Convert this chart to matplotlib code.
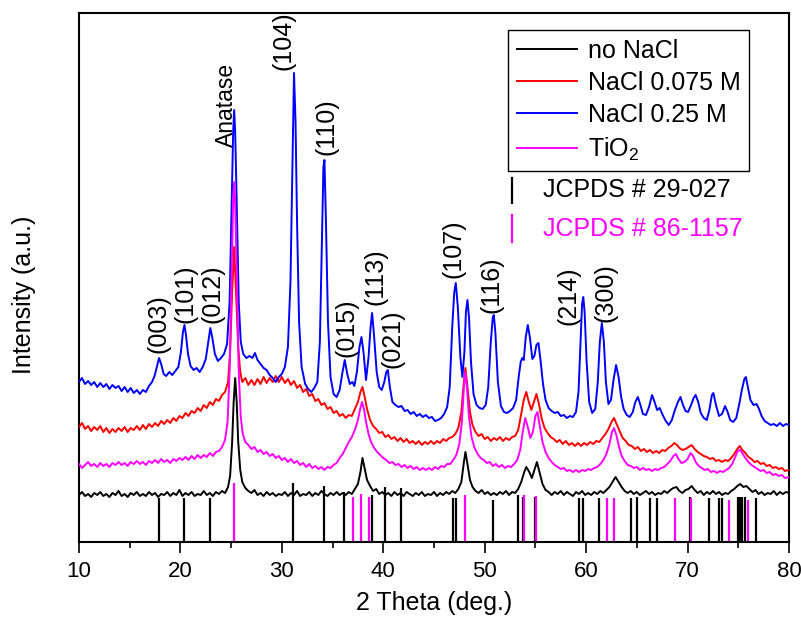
import matplotlib
matplotlib.use("Agg")
import matplotlib.pyplot as plt
from matplotlib.ticker import MultipleLocator

plt.rcParams['font.family'] = ['Liberation Sans', 'DejaVu Sans']
plt.rcParams['mathtext.fontset'] = 'custom'
plt.rcParams['mathtext.rm'] = 'Liberation Sans'
plt.rcParams['mathtext.default'] = 'regular'

# XRD patterns (2theta, stacked intensity in arbitrary units)
no_nacl = [
    (10.0, 47), (10.3, 50), (10.6, 46), (10.9, 48), (11.2, 45), (11.5, 49), (11.8, 47), (12.1, 50), (12.4, 46), (12.7, 48),
    (13.0, 45), (13.3, 49), (13.6, 47), (13.9, 51), (14.2, 46), (14.5, 48), (14.8, 45), (15.1, 49), (15.4, 47), (15.7, 50),
    (16.0, 46), (16.3, 48), (16.6, 46), (16.9, 50), (17.2, 47), (17.5, 49), (17.8, 45), (18.1, 48), (18.4, 47), (18.7, 50),
    (19.0, 46), (19.3, 49), (19.6, 47), (19.9, 52), (20.2, 46), (20.5, 49), (20.8, 47), (21.1, 50), (21.4, 46), (21.7, 48),
    (22.0, 47), (22.3, 51), (22.6, 47), (22.9, 49), (23.2, 46), (23.5, 50), (23.8, 48), (24.1, 51), (24.4, 49), (24.7, 55),
    (24.9, 66), (25.1, 100), (25.25, 140), (25.4, 164), (25.55, 140), (25.7, 100), (25.9, 72), (26.1, 60), (26.4, 54),
    (26.7, 51), (27.0, 49), (27.3, 52), (27.6, 47), (27.9, 49), (28.2, 46), (28.5, 50), (28.8, 47), (29.1, 49), (29.4, 46),
    (29.7, 48), (30.0, 47), (30.3, 50), (30.6, 46), (30.9, 49), (31.2, 47), (31.5, 51), (31.8, 46), (32.1, 48), (32.4, 47),
    (32.7, 50), (33.0, 46), (33.3, 49), (33.6, 47), (33.9, 51), (34.2, 48), (34.5, 46), (34.8, 49), (35.1, 47), (35.4, 50),
    (35.7, 47), (36.0, 49), (36.3, 47), (36.6, 50), (36.9, 48), (37.2, 53), (37.5, 58), (37.75, 70), (37.95, 84),
    (38.15, 74), (38.4, 62), (38.7, 56), (39.0, 51), (39.3, 53), (39.6, 48), (39.9, 50), (40.2, 47), (40.5, 49), (40.8, 46),
    (41.1, 50), (41.4, 47), (41.7, 49), (42.0, 46), (42.3, 50), (42.6, 48), (42.9, 46), (43.2, 49), (43.5, 47), (43.8, 50),
    (44.1, 46), (44.4, 48), (44.7, 47), (45.0, 50), (45.3, 46), (45.6, 49), (45.9, 47), (46.2, 50), (46.5, 48), (46.8, 51),
    (47.1, 49), (47.4, 53), (47.7, 60), (47.95, 80), (48.1, 90), (48.3, 78), (48.55, 62), (48.8, 55), (49.1, 51), (49.4, 49),
    (49.7, 52), (50.0, 48), (50.3, 50), (50.6, 47), (50.9, 49), (51.2, 47), (51.5, 50), (51.8, 48), (52.1, 51), (52.4, 47),
    (52.7, 50), (53.0, 49), (53.3, 53), (53.6, 60), (53.9, 70), (54.1, 75), (54.4, 70), (54.65, 64), (54.9, 72), (55.15, 80),
    (55.4, 70), (55.7, 58), (56.0, 52), (56.3, 50), (56.6, 47), (56.9, 50), (57.2, 48), (57.5, 51), (57.8, 47), (58.1, 50),
    (58.4, 48), (58.7, 46), (59.0, 50), (59.3, 48), (59.6, 51), (59.9, 47), (60.2, 49), (60.5, 47), (60.8, 50), (61.1, 48),
    (61.4, 51), (61.7, 49), (62.0, 52), (62.3, 55), (62.6, 60), (62.9, 65), (63.2, 60), (63.5, 55), (63.8, 51), (64.1, 49),
    (64.4, 51), (64.7, 48), (65.0, 50), (65.3, 47), (65.6, 49), (65.9, 51), (66.2, 48), (66.5, 50), (66.8, 47), (67.1, 49),
    (67.4, 48), (67.7, 51), (68.0, 49), (68.3, 52), (68.6, 54), (68.9, 55), (69.2, 51), (69.5, 49), (69.8, 52), (70.1, 53),
    (70.4, 56), (70.7, 52), (71.0, 49), (71.3, 51), (71.6, 47), (71.9, 50), (72.2, 48), (72.5, 51), (72.8, 48), (73.1, 50),
    (73.4, 47), (73.7, 49), (74.0, 48), (74.3, 51), (74.6, 53), (74.9, 56), (75.2, 58), (75.5, 55), (75.8, 56), (76.1, 53),
    (76.4, 50), (76.7, 52), (77.0, 48), (77.3, 50), (77.6, 47), (77.9, 49), (78.2, 48), (78.5, 51), (78.8, 47), (79.1, 50),
    (79.4, 48), (79.7, 50), (80.0, 49),
]

nacl_0075 = [
    (10.0, 115), (10.3, 119), (10.6, 113), (10.9, 116), (11.2, 111), (11.5, 115), (11.8, 112), (12.1, 116), (12.4, 110),
    (12.7, 114), (13.0, 109), (13.3, 113), (13.6, 110), (13.9, 114), (14.2, 111), (14.5, 115), (14.8, 110), (15.1, 114),
    (15.4, 112), (15.7, 116), (16.0, 112), (16.3, 117), (16.6, 113), (16.9, 118), (17.2, 115), (17.5, 119), (17.8, 116),
    (18.1, 121), (18.4, 118), (18.7, 122), (19.0, 119), (19.3, 124), (19.6, 121), (19.9, 126), (20.2, 124), (20.5, 129),
    (20.8, 126), (21.1, 131), (21.4, 129), (21.7, 134), (22.0, 131), (22.3, 137), (22.6, 134), (22.9, 140), (23.2, 137),
    (23.5, 143), (23.8, 141), (24.1, 147), (24.4, 150), (24.7, 160), (24.9, 190), (25.1, 250), (25.3, 295), (25.5, 245),
    (25.7, 195), (25.9, 170), (26.1, 160), (26.4, 164), (26.7, 157), (27.0, 162), (27.3, 157), (27.6, 163), (27.9, 158),
    (28.2, 165), (28.5, 159), (28.8, 164), (29.1, 160), (29.4, 166), (29.7, 160), (30.0, 165), (30.3, 159), (30.6, 163),
    (30.9, 157), (31.2, 161), (31.5, 154), (31.8, 157), (32.1, 150), (32.4, 153), (32.7, 146), (33.0, 148), (33.3, 141),
    (33.6, 143), (33.9, 137), (34.2, 139), (34.5, 133), (34.8, 135), (35.1, 129), (35.4, 131), (35.7, 126), (36.0, 128),
    (36.3, 124), (36.6, 127), (36.9, 126), (37.2, 133), (37.5, 140), (37.75, 150), (37.95, 155), (38.15, 146), (38.4, 133),
    (38.7, 122), (39.0, 116), (39.3, 113), (39.6, 109), (39.9, 110), (40.2, 105), (40.5, 107), (40.8, 103), (41.1, 105),
    (41.4, 101), (41.7, 104), (42.0, 100), (42.3, 103), (42.6, 99), (42.9, 101), (43.2, 98), (43.5, 101), (43.8, 97),
    (44.1, 100), (44.4, 98), (44.7, 101), (45.0, 98), (45.3, 101), (45.6, 99), (45.9, 103), (46.2, 101), (46.5, 104),
    (46.8, 105), (47.1, 108), (47.4, 114), (47.7, 130), (47.9, 155), (48.1, 174), (48.3, 155), (48.55, 130), (48.8, 117),
    (49.1, 110), (49.4, 106), (49.7, 108), (50.0, 103), (50.3, 105), (50.6, 101), (50.9, 104), (51.2, 102), (51.5, 105),
    (51.8, 101), (52.1, 104), (52.4, 102), (52.7, 105), (53.0, 106), (53.3, 112), (53.6, 128), (53.85, 142), (54.1, 150),
    (54.35, 140), (54.6, 132), (54.85, 140), (55.1, 148), (55.35, 138), (55.6, 124), (55.9, 114), (56.2, 109), (56.5, 105),
    (56.8, 103), (57.1, 100), (57.4, 102), (57.7, 98), (58.0, 101), (58.3, 97), (58.6, 99), (58.9, 96), (59.2, 99),
    (59.5, 96), (59.8, 99), (60.1, 97), (60.4, 100), (60.7, 98), (61.0, 101), (61.3, 100), (61.6, 104), (61.9, 108),
    (62.2, 113), (62.5, 120), (62.75, 124), (63.0, 118), (63.3, 111), (63.6, 104), (63.9, 101), (64.2, 97), (64.5, 96),
    (64.8, 93), (65.1, 95), (65.4, 91), (65.7, 93), (66.0, 90), (66.3, 92), (66.6, 89), (66.9, 91), (67.2, 89), (67.5, 92),
    (67.8, 91), (68.1, 94), (68.4, 96), (68.7, 99), (68.95, 97), (69.2, 94), (69.5, 92), (69.8, 93), (70.1, 95), (70.4, 97),
    (70.7, 93), (71.0, 90), (71.3, 88), (71.6, 86), (71.9, 85), (72.2, 83), (72.5, 84), (72.8, 81), (73.1, 82), (73.4, 80),
    (73.7, 82), (74.0, 81), (74.3, 84), (74.6, 88), (74.9, 93), (75.15, 96), (75.4, 92), (75.7, 89), (76.0, 85), (76.3, 83),
    (76.6, 80), (76.9, 81), (77.2, 78), (77.5, 79), (77.8, 76), (78.1, 77), (78.4, 74), (78.7, 75), (79.0, 73), (79.3, 74),
    (79.6, 71), (80.0, 72),
]

nacl_025 = [
    (10.0, 160), (10.3, 164), (10.6, 158), (10.9, 161), (11.2, 157), (11.5, 160), (11.8, 155), (12.1, 159), (12.4, 155),
    (12.7, 158), (13.0, 153), (13.3, 157), (13.6, 154), (13.9, 156), (14.2, 151), (14.5, 155), (14.8, 150), (15.1, 154),
    (15.4, 149), (15.7, 152), (16.0, 148), (16.3, 152), (16.6, 150), (16.9, 156), (17.2, 160), (17.45, 166), (17.7, 176),
    (17.9, 184), (18.1, 178), (18.35, 168), (18.6, 166), (18.9, 170), (19.2, 167), (19.5, 171), (19.8, 175), (20.05, 190),
    (20.25, 210), (20.4, 217), (20.55, 207), (20.75, 188), (21.0, 176), (21.3, 172), (21.6, 174), (21.9, 170), (22.2, 175),
    (22.5, 183), (22.75, 200), (22.95, 214), (23.15, 204), (23.4, 188), (23.7, 181), (24.0, 184), (24.3, 188), (24.6, 198),
    (24.85, 240), (25.05, 340), (25.2, 410), (25.3, 432), (25.4, 410), (25.55, 340), (25.75, 240), (25.95, 200), (26.2, 188),
    (26.5, 184), (26.8, 186), (27.1, 184), (27.35, 189), (27.6, 182), (27.9, 178), (28.2, 174), (28.5, 172), (28.8, 167),
    (29.1, 164), (29.4, 160), (29.7, 165), (30.0, 168), (30.3, 175), (30.6, 195), (30.85, 260), (31.05, 380), (31.2, 469),
    (31.35, 420), (31.5, 320), (31.7, 220), (31.95, 175), (32.3, 158), (32.6, 153), (32.9, 150), (33.2, 154), (33.5, 160),
    (33.75, 200), (33.95, 300), (34.1, 375), (34.2, 382), (34.35, 320), (34.55, 220), (34.8, 165), (35.1, 148), (35.4, 145),
    (35.7, 152), (35.95, 168), (36.2, 182), (36.45, 168), (36.7, 158), (36.95, 160), (37.15, 156), (37.4, 170), (37.65, 195),
    (37.85, 205), (38.05, 190), (38.3, 162), (38.55, 185), (38.75, 215), (38.9, 229), (39.1, 205), (39.35, 170), (39.6, 155),
    (39.85, 152), (40.1, 160), (40.3, 170), (40.45, 172), (40.65, 155), (40.9, 140), (41.2, 137), (41.5, 135), (41.8, 136),
    (42.1, 131), (42.4, 132), (42.7, 128), (43.0, 130), (43.3, 126), (43.6, 128), (43.9, 125), (44.2, 127), (44.5, 124),
    (44.8, 125), (45.1, 121), (45.4, 122), (45.7, 124), (46.0, 128), (46.3, 135), (46.55, 155), (46.8, 215), (47.0, 250),
    (47.15, 259), (47.35, 235), (47.6, 185), (47.8, 165), (48.0, 190), (48.15, 230), (48.3, 242), (48.45, 225), (48.65, 180),
    (48.9, 148), (49.2, 137), (49.5, 134), (49.8, 133), (50.1, 137), (50.35, 155), (50.6, 200), (50.8, 225), (50.9, 227),
    (51.05, 210), (51.3, 160), (51.6, 136), (51.9, 130), (52.2, 129), (52.5, 131), (52.8, 134), (53.1, 142), (53.35, 165),
    (53.55, 180), (53.7, 184), (53.85, 182), (54.05, 205), (54.25, 217), (54.45, 205), (54.7, 183), (54.9, 186), (55.1, 197),
    (55.3, 199), (55.5, 182), (55.75, 158), (56.0, 142), (56.3, 134), (56.6, 131), (56.9, 129), (57.2, 130), (57.5, 126),
    (57.8, 127), (58.1, 124), (58.4, 126), (58.7, 125), (59.0, 130), (59.25, 150), (59.45, 200), (59.6, 238), (59.72, 245),
    (59.85, 230), (60.05, 180), (60.3, 140), (60.6, 129), (60.9, 133), (61.15, 160), (61.35, 200), (61.55, 219), (61.75, 200),
    (61.95, 160), (62.2, 138), (62.45, 142), (62.7, 162), (62.95, 177), (63.2, 165), (63.45, 145), (63.7, 133), (64.0, 127),
    (64.3, 125), (64.6, 130), (64.85, 140), (65.1, 145), (65.35, 137), (65.6, 128), (65.9, 127), (66.2, 135), (66.5, 147),
    (66.75, 140), (67.0, 132), (67.25, 134), (67.55, 127), (67.85, 121), (68.15, 117), (68.45, 122), (68.75, 132),
    (69.05, 140), (69.3, 145), (69.55, 137), (69.8, 131), (70.05, 130), (70.35, 137), (70.6, 144), (70.8, 147), (71.05, 140),
    (71.3, 129), (71.6, 124), (71.9, 122), (72.15, 132), (72.4, 147), (72.55, 149), (72.8, 137), (73.1, 126), (73.4, 128),
    (73.7, 136), (73.95, 130), (74.2, 122), (74.5, 120), (74.8, 124), (75.1, 138), (75.35, 152), (75.6, 163), (75.75, 165),
    (75.95, 155), (76.2, 142), (76.5, 137), (76.8, 138), (77.05, 133), (77.3, 126), (77.6, 121), (77.9, 119), (78.2, 117),
    (78.5, 118), (78.8, 116), (79.1, 119), (79.4, 116), (79.7, 118), (80.0, 117),
]

tio2 = [
    (10.0, 78), (10.3, 74), (10.6, 77), (10.9, 80), (11.2, 76), (11.5, 78), (11.8, 75), (12.1, 79), (12.4, 76), (12.7, 78),
    (13.0, 75), (13.3, 79), (13.6, 77), (13.9, 80), (14.2, 77), (14.5, 79), (14.8, 76), (15.1, 80), (15.4, 78), (15.7, 81),
    (16.0, 78), (16.3, 80), (16.6, 77), (16.9, 81), (17.2, 79), (17.5, 82), (17.8, 79), (18.1, 83), (18.4, 80), (18.7, 82),
    (19.0, 79), (19.3, 83), (19.6, 81), (19.9, 84), (20.2, 82), (20.5, 85), (20.8, 82), (21.1, 86), (21.4, 83), (21.7, 87),
    (22.0, 84), (22.3, 87), (22.6, 85), (22.9, 89), (23.2, 86), (23.5, 90), (23.8, 91), (24.1, 95), (24.4, 102),
    (24.65, 120), (24.85, 170), (25.05, 270), (25.2, 340), (25.3, 360), (25.4, 340), (25.55, 270), (25.75, 170),
    (25.95, 125), (26.15, 108), (26.4, 100), (26.7, 97), (27.0, 93), (27.3, 95), (27.6, 90), (27.9, 92), (28.2, 88),
    (28.5, 90), (28.8, 86), (29.1, 88), (29.4, 84), (29.7, 86), (30.0, 82), (30.3, 84), (30.6, 80), (30.9, 83), (31.2, 79),
    (31.5, 81), (31.8, 77), (32.1, 79), (32.4, 75), (32.7, 78), (33.0, 74), (33.3, 76), (33.6, 73), (33.9, 75), (34.2, 72),
    (34.5, 75), (34.8, 74), (35.1, 77), (35.4, 79), (35.7, 84), (36.0, 88), (36.3, 94), (36.6, 100), (36.9, 105),
    (37.2, 112), (37.5, 122), (37.7, 132), (37.9, 140), (38.1, 133), (38.3, 120), (38.55, 108), (38.8, 100), (39.1, 94),
    (39.4, 90), (39.7, 87), (40.0, 84), (40.3, 82), (40.6, 79), (40.9, 80), (41.2, 77), (41.5, 78), (41.8, 75), (42.1, 77),
    (42.4, 74), (42.7, 76), (43.0, 73), (43.3, 75), (43.6, 72), (43.9, 74), (44.2, 72), (44.5, 74), (44.8, 72), (45.1, 75),
    (45.4, 73), (45.7, 76), (46.0, 75), (46.3, 78), (46.6, 78), (46.9, 82), (47.2, 87), (47.5, 98), (47.75, 120),
    (47.95, 155), (48.1, 170), (48.25, 155), (48.45, 125), (48.7, 105), (49.0, 94), (49.3, 88), (49.6, 84), (49.9, 82),
    (50.2, 79), (50.5, 80), (50.8, 76), (51.1, 78), (51.4, 75), (51.7, 77), (52.0, 74), (52.3, 76), (52.6, 75), (52.9, 78),
    (53.2, 82), (53.5, 92), (53.75, 110), (54.0, 124), (54.25, 115), (54.5, 104), (54.75, 110), (55.0, 126), (55.2, 130),
    (55.45, 115), (55.7, 100), (56.0, 90), (56.3, 84), (56.6, 80), (56.9, 77), (57.2, 75), (57.5, 73), (57.8, 74),
    (58.1, 71), (58.4, 72), (58.7, 70), (59.0, 72), (59.3, 70), (59.6, 72), (59.9, 71), (60.2, 73), (60.5, 72), (60.8, 74),
    (61.1, 75), (61.4, 78), (61.7, 82), (62.0, 88), (62.3, 98), (62.55, 110), (62.75, 114), (63.0, 106), (63.25, 95),
    (63.5, 86), (63.8, 81), (64.1, 77), (64.4, 76), (64.7, 74), (65.0, 75), (65.3, 72), (65.6, 74), (65.9, 72), (66.2, 73),
    (66.5, 71), (66.8, 73), (67.1, 72), (67.4, 74), (67.7, 75), (68.0, 78), (68.3, 81), (68.6, 86), (68.85, 88), (69.1, 83),
    (69.4, 79), (69.7, 80), (70.0, 83), (70.3, 89), (70.55, 86), (70.8, 80), (71.1, 76), (71.4, 74), (71.7, 72), (72.0, 73),
    (72.3, 70), (72.6, 71), (72.9, 69), (73.2, 71), (73.5, 70), (73.8, 72), (74.1, 74), (74.4, 78), (74.7, 85), (74.95, 91),
    (75.2, 92), (75.45, 88), (75.7, 84), (76.0, 80), (76.3, 77), (76.6, 75), (76.9, 73), (77.2, 71), (77.5, 72), (77.8, 69),
    (78.1, 70), (78.4, 67), (78.7, 68), (79.0, 66), (79.3, 67), (79.6, 64), (80.0, 65),
]

# reference patterns (stick positions and heights)
jcpds_29027_pos = [17.9, 20.4, 22.9, 31.1, 34.2, 36.1, 38.9, 40.2, 41.7, 46.9, 47.2, 50.8, 53.3, 53.8, 55.0,
                   59.3, 59.7, 61.3, 64.4, 65.0, 66.3, 67.0, 70.2, 72.1, 73.1, 73.4, 75.0, 75.2, 75.4, 75.7, 76.7]
jcpds_29027_h = [44, 44, 44, 59, 56, 50, 47, 55, 54, 44, 44, 42, 47, 45, 45,
                 44, 44, 44, 44, 45, 44, 44, 45, 44, 44, 44, 45, 45, 45, 45, 44]
jcpds_861157_pos = [25.3, 37.0, 37.8, 38.6, 48.05, 53.9, 55.1, 62.1, 62.7, 68.8, 70.3, 74.1, 76.0]
jcpds_861157_h = [59, 45, 48, 45, 47, 47, 46, 44, 44, 44, 44, 42, 42]

# peak labels: text, 2theta, y of label bottom, font size
peak_labels = [
    ('(003)', 17.8, 189, 18), ('(101)', 20.5, 219, 18), ('(012)', 23.2, 219, 18), ('Anatase', 24.5, 395, 16.5),
    ('(104)', 30.2, 472, 18), ('(110)', 34.4, 387, 18), ('(015)', 36.4, 185, 18), ('(113)', 39.2, 237, 18),
    ('(021)', 40.9, 174, 18), ('(107)', 46.9, 264, 18), ('(116)', 50.7, 229, 18), ('(214)', 58.3, 217, 18),
    ('(300)', 61.9, 220, 18),
]

series = [
    ('no NaCl', no_nacl, 'black'),
    ('NaCl 0.075 M', nacl_0075, 'red'),
    ('NaCl 0.25 M', nacl_025, 'blue'),
    ('TiO$_2$', tio2, '#ff00ff'),
]

fig = plt.figure(figsize=(8.01, 6.19), dpi=100)
ax = fig.add_axes([0.0986, 0.1244, 0.8864, 0.8546])

ax.vlines(jcpds_29027_pos, 0, jcpds_29027_h, colors='black', lw=1.6, zorder=1)
ax.vlines(jcpds_861157_pos, 0, jcpds_861157_h, colors='#ff00ff', lw=1.6, zorder=1)

for i, (label, pts, color) in enumerate(series):
    xs = [p[0] for p in pts]
    ys = [p[1] for p in pts]
    ax.plot(xs, ys, color=color, lw=1.4, label=label, zorder=2 + i)

for text, x, y, size in peak_labels:
    ax.text(x, y, text, rotation=90, ha='center', va='bottom', fontsize=size)

ax.set_xlim(10, 80)
ax.set_ylim(0, 529)
ax.xaxis.set_major_locator(MultipleLocator(10))
ax.xaxis.set_minor_locator(MultipleLocator(5))
ax.tick_params(axis='x', which='major', direction='out', length=8, width=1.2, labelsize=16, pad=6)
ax.tick_params(axis='x', which='minor', direction='out', length=4.5, width=1.2)
ax.set_yticks([])
for sp in ax.spines.values():
    sp.set_linewidth(1.5)

ax.set_xlabel('2 Theta (deg.)', fontsize=18, labelpad=6)
ax.set_ylabel('Intensity (a.u.)', fontsize=18)
ax.yaxis.set_label_coords(-0.06, 0.467)

leg = ax.legend(loc='upper left', bbox_to_anchor=(0.604, 0.968), fontsize=18, frameon=True,
                fancybox=False, edgecolor='black', framealpha=1, borderaxespad=0,
                handlelength=2.4, handletextpad=0.45, labelspacing=0.33, borderpad=0.35)
leg.get_frame().set_linewidth(1.0)

# reference pattern key
ax.plot([0.61, 0.61], [0.641, 0.688], color='black', lw=1.6, transform=ax.transAxes)
ax.plot([0.61, 0.61], [0.567, 0.618], color='#ff00ff', lw=1.6, transform=ax.transAxes)
ax.text(0.654, 0.665, 'JCPDS # 29-027', transform=ax.transAxes, fontsize=18, va='center', ha='left', color='black')
ax.text(0.654, 0.592, 'JCPDS # 86-1157', transform=ax.transAxes, fontsize=18, va='center', ha='left', color='#ff00ff')

fig.savefig('out.png', dpi=100)
